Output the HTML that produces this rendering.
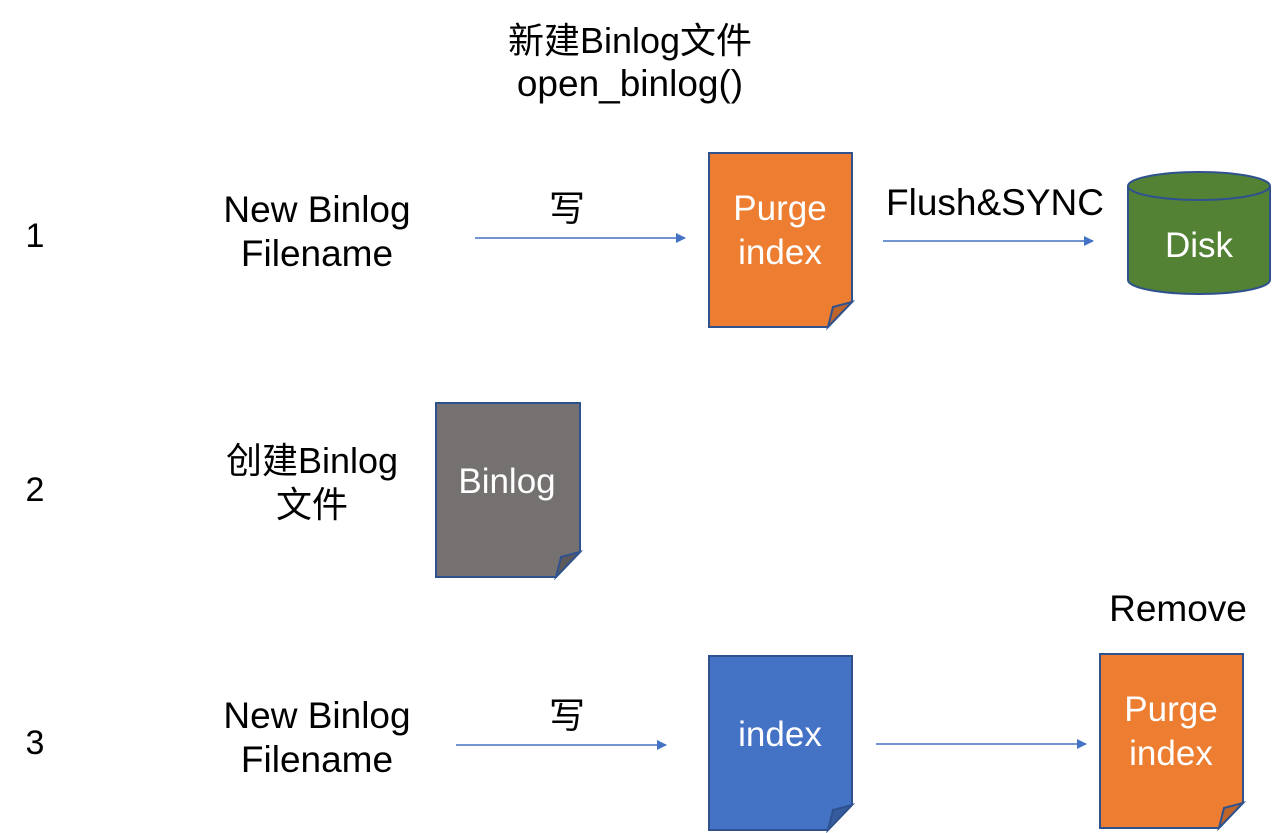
<!DOCTYPE html>
<html><head><meta charset="utf-8"><style>
html,body{margin:0;padding:0;background:#fff;width:1272px;height:833px;overflow:hidden}
svg{display:block}
.t{font-family:"Liberation Sans","Noto Sans CJK SC",sans-serif;fill:#000;text-anchor:middle}
.w{font-family:"Liberation Sans",sans-serif;fill:#fff;text-anchor:middle}
</style></head><body>
<svg width="1272" height="833" viewBox="0 0 1272 833">
<defs>
<marker id="a" markerWidth="10" markerHeight="10" refX="9" refY="5" orient="auto" markerUnits="userSpaceOnUse">
<path d="M0,0 L10,5 L0,10 z" fill="#4472C4"/></marker>
</defs>
<g class="t" font-size="37">
<text x="630" y="53" font-size="36">新建Binlog文件</text>
<text x="630" y="96" font-size="37">open_binlog()</text>
<text x="35" y="247" font-size="34">1</text>
<text x="35" y="501" font-size="34">2</text>
<text x="35" y="754" font-size="34">3</text>
<text x="317" y="222">New Binlog</text>
<text x="317" y="266">Filename</text>
<text x="567" y="221" font-size="36">写</text>
<text x="995" y="215">Flush&amp;SYNC</text>
<text x="312" y="473" font-size="36">创建Binlog</text>
<text x="312" y="517" font-size="36">文件</text>
<text x="317" y="728">New Binlog</text>
<text x="317" y="772">Filename</text>
<text x="567" y="728" font-size="36">写</text>
<text x="1178" y="621">Remove</text>
</g>
<g stroke="#4472C4" stroke-width="1.5" marker-end="url(#a)">
<line x1="475" y1="238" x2="685" y2="238"/>
<line x1="883" y1="241" x2="1093" y2="241"/>
<line x1="456" y1="745" x2="666" y2="745"/>
<line x1="876" y1="744" x2="1086" y2="744"/>
</g>
<g stroke="#2F528F" stroke-width="2">
<path d="M709,153 H852 V302 L828,327 H709 Z" fill="#ED7D31"/>
<path d="M852,302 L833,307 L828,327 Z" fill="#C0652A"/>
<path d="M436,403 H580 V552 L556,577 H436 Z" fill="#767171"/>
<path d="M580,552 L561,557 L556,577 Z" fill="#5E5A5A"/>
<path d="M709,656 H852 V805 L828,830 H709 Z" fill="#4472C4"/>
<path d="M852,805 L833,810 L828,830 Z" fill="#365C9E"/>
<path d="M1100,654 H1243 V803 L1219,828 H1100 Z" fill="#ED7D31"/>
<path d="M1243,803 L1224,808 L1219,828 Z" fill="#C0652A"/>
</g>
<g stroke="#2F528F" stroke-width="2" fill="#548235">
<path d="M1128,186 V280 A71,14 0 0 0 1270,280 V186"/>
<ellipse cx="1199" cy="186" rx="71" ry="14"/>
</g>
<g class="w" font-size="35">
<text x="780" y="220">Purge</text>
<text x="780" y="264">index</text>
<text x="1199" y="257">Disk</text>
<text x="507" y="493">Binlog</text>
<text x="780" y="746">index</text>
<text x="1171" y="721">Purge</text>
<text x="1171" y="765">index</text>
</g>
</svg>
</body></html>
